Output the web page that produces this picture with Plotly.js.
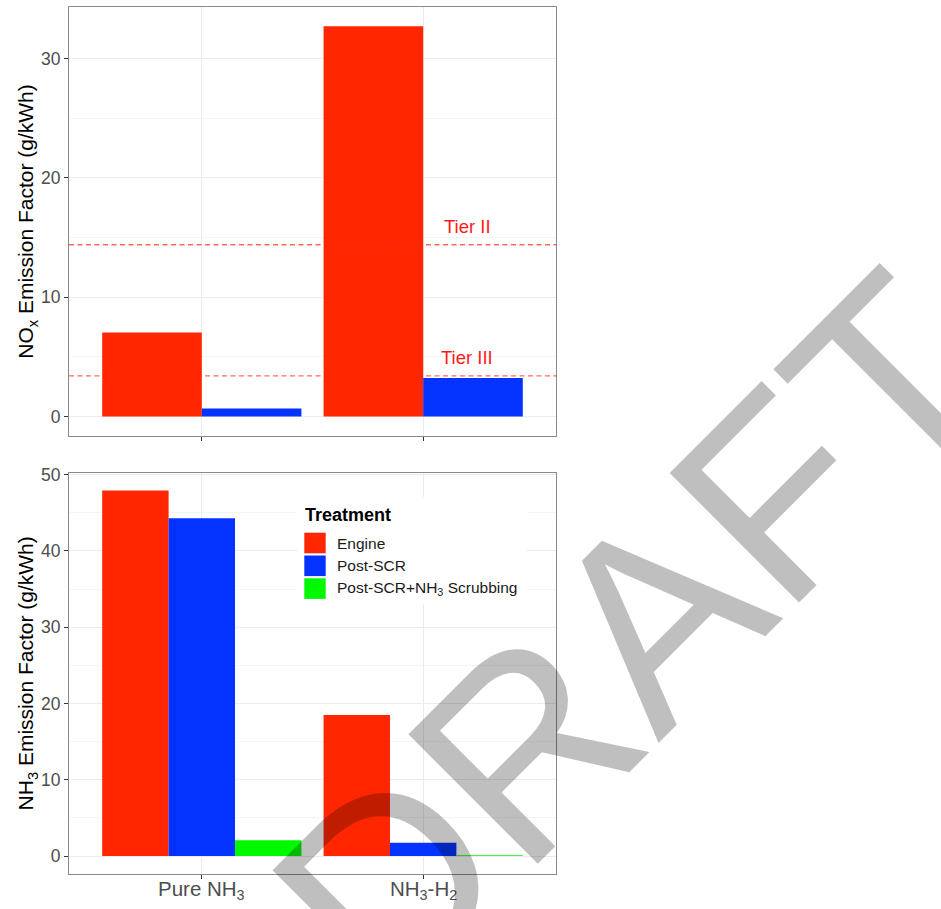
<!DOCTYPE html>
<html>
<head>
<meta charset="utf-8">
<script src="https://cdn.plot.ly/plotly-3.0.1.min.js"></script>
<style>html,body{margin:0;padding:0;background:#fff;}#chart{width:941px;height:909px;}</style>
</head>
<body>
<div id="chart"></div>
<script>
// ---- data ----
const categories = ['Pure NH<sub>3</sub>', 'NH<sub>3</sub>-H<sub>2</sub>'];
const seriesNames = ['Engine', 'Post-SCR', 'Post-SCR+NH<sub>3</sub> Scrubbing'];
const seriesColors = ['#FF2600', '#0433FF', '#00F900'];
const noxEngine = [7.04, 32.72];
const noxPostSCR = [0.67, 3.22];
const nh3Engine = [47.93, 18.5];
const nh3PostSCR = [44.27, 1.75];
const nh3Scrubbing = [2.09, 0.12];
const tierNames = ['Tier II', 'Tier III'];
const tierValues = [14.4, 3.4];
const noxTitle = 'NO<sub>x</sub> Emission Factor (g/kWh)';
const nh3Title = 'NH<sub>3</sub> Emission Factor (g/kWh)';
const legendTitle = 'Treatment';
const watermarkText = 'DRAFT';

// ---- layout geometry (pixels) ----
const W = 941, H = 909;
const M = {l: 69, r: 385, t: 7, b: 35};
const plotW = W - M.l - M.r, plotH = H - M.t - M.b;
const px2x = px => (px - M.l) / plotW;
const py2y = py => (H - M.b - py) / plotH;
const FONT = 'Liberation Sans, Arial, Helvetica, sans-serif';

const bar = (y, i, xa, ya) => ({
  type: 'bar', x: categories, y: y, name: seriesNames[i],
  marker: {color: seriesColors[i], line: {width: 0}},
  xaxis: xa, yaxis: ya, showlegend: false, hoverinfo: 'skip'
});

const data = [
  bar(noxEngine, 0, 'x', 'y'),
  bar(noxPostSCR, 1, 'x', 'y'),
  bar(nh3Engine, 0, 'x2', 'y2'),
  bar(nh3PostSCR, 1, 'x2', 'y2'),
  bar(nh3Scrubbing, 2, 'x2', 'y2')
];

const axisCommon = {
  showline: true, mirror: true, linecolor: '#8a8a8a', linewidth: 1,
  ticks: 'outside', ticklen: 4, tickcolor: '#333', tickwidth: 1,
  showgrid: true, gridcolor: '#ebebeb', gridwidth: 1,
  zeroline: false, automargin: false, fixedrange: true
};

const xCommon = Object.assign({}, axisCommon, {
  type: 'category', range: [-0.6, 1.6], domain: [0, 1], showticklabels: false
});

const yCommon = Object.assign({}, axisCommon, {
  tick0: 0, dtick: 10,
  tickfont: {family: FONT, size: 17.5, color: '#4d4d4d'},
  minor: {dtick: 5, showgrid: true, gridcolor: '#f5f5f5', gridwidth: 1, ticks: ''}
});

const shapes = [];
const annotations = [];

// category labels under the bottom panel
categories.forEach(c => {
  annotations.push({xref: 'x2', yref: 'paper', x: c, y: py2y(889.5), text: c,
    showarrow: false, xanchor: 'center', yanchor: 'middle',
    font: {family: FONT, size: 20.5, color: '#4d4d4d'}});
});

// tier reference lines
tierValues.forEach((v, i) => {
  shapes.push({type: 'line', xref: 'x domain', yref: 'y', x0: 0, x1: 1, y0: v, y1: v,
    line: {color: 'rgba(255,40,20,0.7)', width: 1.3, dash: '5px,3.5px'}, layer: 'above'});
  annotations.push({xref: 'x', yref: 'y', x: 1.2, y: v, yshift: 18.5, text: tierNames[i],
    showarrow: false, xanchor: 'center', yanchor: 'middle',
    font: {family: FONT, size: 18.5, color: '#ff1a1a'}});
});

// legend (inside bottom panel)
shapes.push({type: 'rect', xref: 'paper', yref: 'paper',
  x0: px2x(297), x1: px2x(527), y0: py2y(604), y1: py2y(497),
  fillcolor: '#ffffff', line: {width: 0}, layer: 'above'});
annotations.push({xref: 'paper', yref: 'paper', x: px2x(303), y: py2y(515),
  text: '<b>' + legendTitle + '</b>', showarrow: false, xanchor: 'left', yanchor: 'middle',
  font: {family: FONT, size: 18, color: '#000'}});
const keyTop = 532.7, keyH = 20.6, keyStep = 22.8;
seriesNames.forEach((n, i) => {
  const t = keyTop + i * keyStep;
  shapes.push({type: 'rect', xref: 'paper', yref: 'paper',
    x0: px2x(304.3), x1: px2x(325.7), y0: py2y(t + keyH), y1: py2y(t),
    fillcolor: seriesColors[i], line: {width: 0}, layer: 'above'});
  annotations.push({xref: 'paper', yref: 'paper', x: px2x(335), y: py2y(t + keyH / 2),
    text: n, showarrow: false, xanchor: 'left', yanchor: 'middle',
    font: {family: FONT, size: 15.5, color: '#1a1a1a'}});
});

// watermark
annotations.push({xref: 'paper', yref: 'paper', x: px2x(634), y: py2y(636),
  text: watermarkText, showarrow: false, xanchor: 'center', yanchor: 'middle',
  textangle: -45, font: {family: FONT, size: 266, color: 'rgba(0,0,0,0.25)'}});

const layout = {
  width: W, height: H, margin: M,
  paper_bgcolor: '#fff', plot_bgcolor: '#fff',
  barmode: 'group', bargap: 0.1, bargroupgap: 0,
  font: {family: FONT},
  xaxis: Object.assign({}, xCommon, {anchor: 'y'}),
  yaxis: Object.assign({}, yCommon, {anchor: 'x', domain: [py2y(436), 1], range: [-1.635, 34.335],
    title: {text: noxTitle, font: {family: FONT, size: 21, color: '#000'}, standoff: 1}}),
  xaxis2: Object.assign({}, xCommon, {anchor: 'y2'}),
  yaxis2: Object.assign({}, yCommon, {anchor: 'x2', domain: [0, py2y(472.7)], range: [-2.35, 50.25],
    title: {text: nh3Title, font: {family: FONT, size: 21, color: '#000'}, standoff: 1}}),
  shapes: shapes,
  annotations: annotations
};

Plotly.newPlot('chart', data, layout, {staticPlot: true, displayModeBar: false});
</script>
</body>
</html>
